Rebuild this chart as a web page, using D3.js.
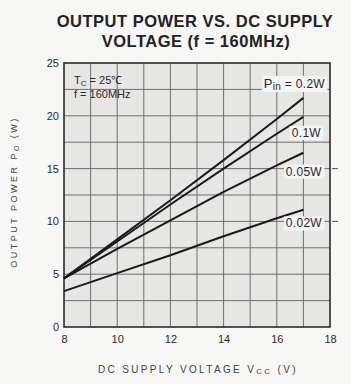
<!DOCTYPE html>
<html>
<head>
<meta charset="utf-8">
<script src="https://cdn.jsdelivr.net/npm/d3@7"></script>
<style>
  body { margin: 0; background: #f7f7f5; }
  svg { display: block; font-family: "Liberation Sans", Arial, sans-serif; }
</style>
</head>
<body>
<svg id="chart" width="351" height="384"></svg>
<script>
// Data
const voltage = [8, 10, 12, 14, 16, 17];
const p020 = [4.6, 8.3, 12.0, 15.8, 19.7, 21.7];
const p010 = [4.6, 8.1, 11.6, 15.0, 18.3, 19.9];
const p005 = [4.6, 7.4, 10.1, 12.8, 15.3, 16.5];
const p002 = [3.4, 5.1, 6.8, 8.6, 10.3, 11.1];
const seriesNames = ["0.2W", "0.1W", "0.05W", "0.02W"];
const xTicks = [8, 10, 12, 14, 16, 18];
const yTicks = [0, 5, 10, 15, 20, 25];

const svg = d3.select("#chart");
const plotL = 64, plotR = 330, plotT = 63, plotB = 327;

const x = d3.scaleLinear().domain([8, 18]).range([plotL, plotR]);
const y = d3.scaleLinear().domain([0, 25]).range([plotB, plotT]);

// spread a text element's letters so it spans about `w` px
function spreadTo(sel, w) {
    const n = sel.text().length;
    const cur = sel.node().getComputedTextLength();
    sel.attr("letter-spacing", Math.max(0, (w - cur) / n));
}

// Title
svg.append("text")
    .attr("x", 195).attr("y", 27)
    .attr("text-anchor", "middle")
    .attr("font-size", 16.5).attr("font-weight", "bold")
    .attr("letter-spacing", 0.5)
    .attr("fill", "#222")
    .text("OUTPUT POWER VS. DC SUPPLY");
svg.append("text")
    .attr("x", 196).attr("y", 47)
    .attr("text-anchor", "middle")
    .attr("font-size", 16.5).attr("font-weight", "bold")
    .attr("letter-spacing", 0.5)
    .attr("fill", "#222")
    .text("VOLTAGE  (f = 160MHz)");

// plot background
svg.append("rect")
    .attr("x", plotL).attr("y", plotT)
    .attr("width", plotR - plotL).attr("height", plotB - plotT)
    .attr("fill", "#e6e6e4");

// grid: 1 V and 2.5 W
const grid = svg.append("g").attr("stroke", "#6e6e6e").attr("stroke-width", 1);
grid.selectAll(".vx")
    .data(d3.range(9, 18))
    .enter().append("line")
    .attr("x1", d => x(d)).attr("x2", d => x(d))
    .attr("y1", plotT).attr("y2", plotB);
grid.selectAll(".hy")
    .data(d3.range(2.5, 25, 2.5))
    .enter().append("line")
    .attr("x1", plotL).attr("x2", plotR)
    .attr("y1", d => y(d)).attr("y2", d => y(d));

// little dashes right of the frame at 15 and 10 (seen on scan)
svg.append("g").attr("stroke", "#555")
    .selectAll("line").data([15, 10]).enter().append("line")
    .attr("x1", plotR + 2).attr("x2", plotR + 8)
    .attr("y1", d => y(d)).attr("y2", d => y(d));

// frame
svg.append("rect")
    .attr("x", plotL).attr("y", plotT)
    .attr("width", plotR - plotL).attr("height", plotB - plotT)
    .attr("fill", "none").attr("stroke", "#2a2a2a").attr("stroke-width", 1.6);

// axes
const xAxis = svg.append("g")
    .attr("transform", `translate(0,${plotB})`)
    .call(d3.axisBottom(x).tickValues(xTicks).tickSize(0).tickPadding(8));
xAxis.select(".domain").remove();
xAxis.selectAll("text").attr("font-size", 11).attr("fill", "#2a2a2a")
    .attr("font-family", "'Liberation Sans', Arial, sans-serif");

const yAxis = svg.append("g")
    .attr("transform", `translate(${plotL},0)`)
    .call(d3.axisLeft(y).tickValues(yTicks).tickSize(0).tickPadding(5));
yAxis.select(".domain").remove();
yAxis.selectAll("text").attr("font-size", 11).attr("fill", "#2a2a2a")
    .attr("font-family", "'Liberation Sans', Arial, sans-serif");

// curves
const line = d3.line().x(d => x(d[0])).y(d => y(d[1]));
const allSeries = [p020, p010, p005, p002];
svg.append("g")
    .selectAll("path")
    .data(allSeries)
    .enter().append("path")
    .attr("d", s => line(voltage.map((v, i) => [v, s[i]])))
    .attr("fill", "none")
    .attr("stroke", "#1a1a1a")
    .attr("stroke-width", 2);

// curve labels (white boxes on the grid)
const labelPos = [
    { x: 325, y: 84, pin: true },
    { x: 321, y: 133 },
    { x: 322, y: y(15) + 3 },
    { x: 322, y: y(10) + 2 }
];
const lab = svg.append("g");
seriesNames.forEach((name, i) => {
    const p = labelPos[i];
    const t = lab.append("text")
        .attr("x", p.x).attr("y", p.y + 4)
        .attr("text-anchor", "end")
        .attr("font-size", 12).attr("letter-spacing", 0.3)
        .attr("fill", "#2a2a2a");
    if (p.pin) {
        t.append("tspan").attr("font-size", 13).text("P");
        t.append("tspan").attr("font-size", 10).attr("dy", 2).text("in");
        t.append("tspan").attr("dy", -2).text(" = " + name);
    } else {
        t.text(name);
    }
    const bb = t.node().getBBox();
    lab.insert("rect", "text")
        .attr("x", bb.x - 2).attr("y", bb.y)
        .attr("width", bb.width + 4).attr("height", bb.height)
        .attr("fill", "#f4f4f2");
});

// conditions
const cond = svg.append("g").attr("font-size", 11).attr("fill", "#2a2a2a");
const tc = cond.append("text").attr("x", 74).attr("y", 84);
tc.append("tspan").text("T");
tc.append("tspan").attr("font-size", 8).attr("dy", 2).text("C");
tc.append("tspan").attr("dy", -2).text(" = 25\u2103");
cond.append("text").attr("x", 74).attr("y", 98).text("f = 160MHz");

// axis titles
const yt = svg.append("text")
    .attr("transform", "translate(17,192) rotate(-90)")
    .attr("text-anchor", "middle")
    .attr("font-size", 9).attr("fill", "#444");
yt.append("tspan").text("OUTPUT POWER   P");
yt.append("tspan").attr("font-size", 7).attr("dy", 2).text("O");
yt.append("tspan").attr("dy", -2).text("  (W)");
spreadTo(yt, 159);

const xt = svg.append("text")
    .attr("x", 198).attr("y", 373)
    .attr("text-anchor", "middle")
    .attr("font-size", 10).attr("fill", "#444");
xt.append("tspan").text("DC SUPPLY VOLTAGE   V");
xt.append("tspan").attr("font-size", 8).attr("dy", 1).text("CC");
xt.append("tspan").attr("dy", -1).text("  (V)");
spreadTo(xt, 207);
</script>
</body>
</html>
